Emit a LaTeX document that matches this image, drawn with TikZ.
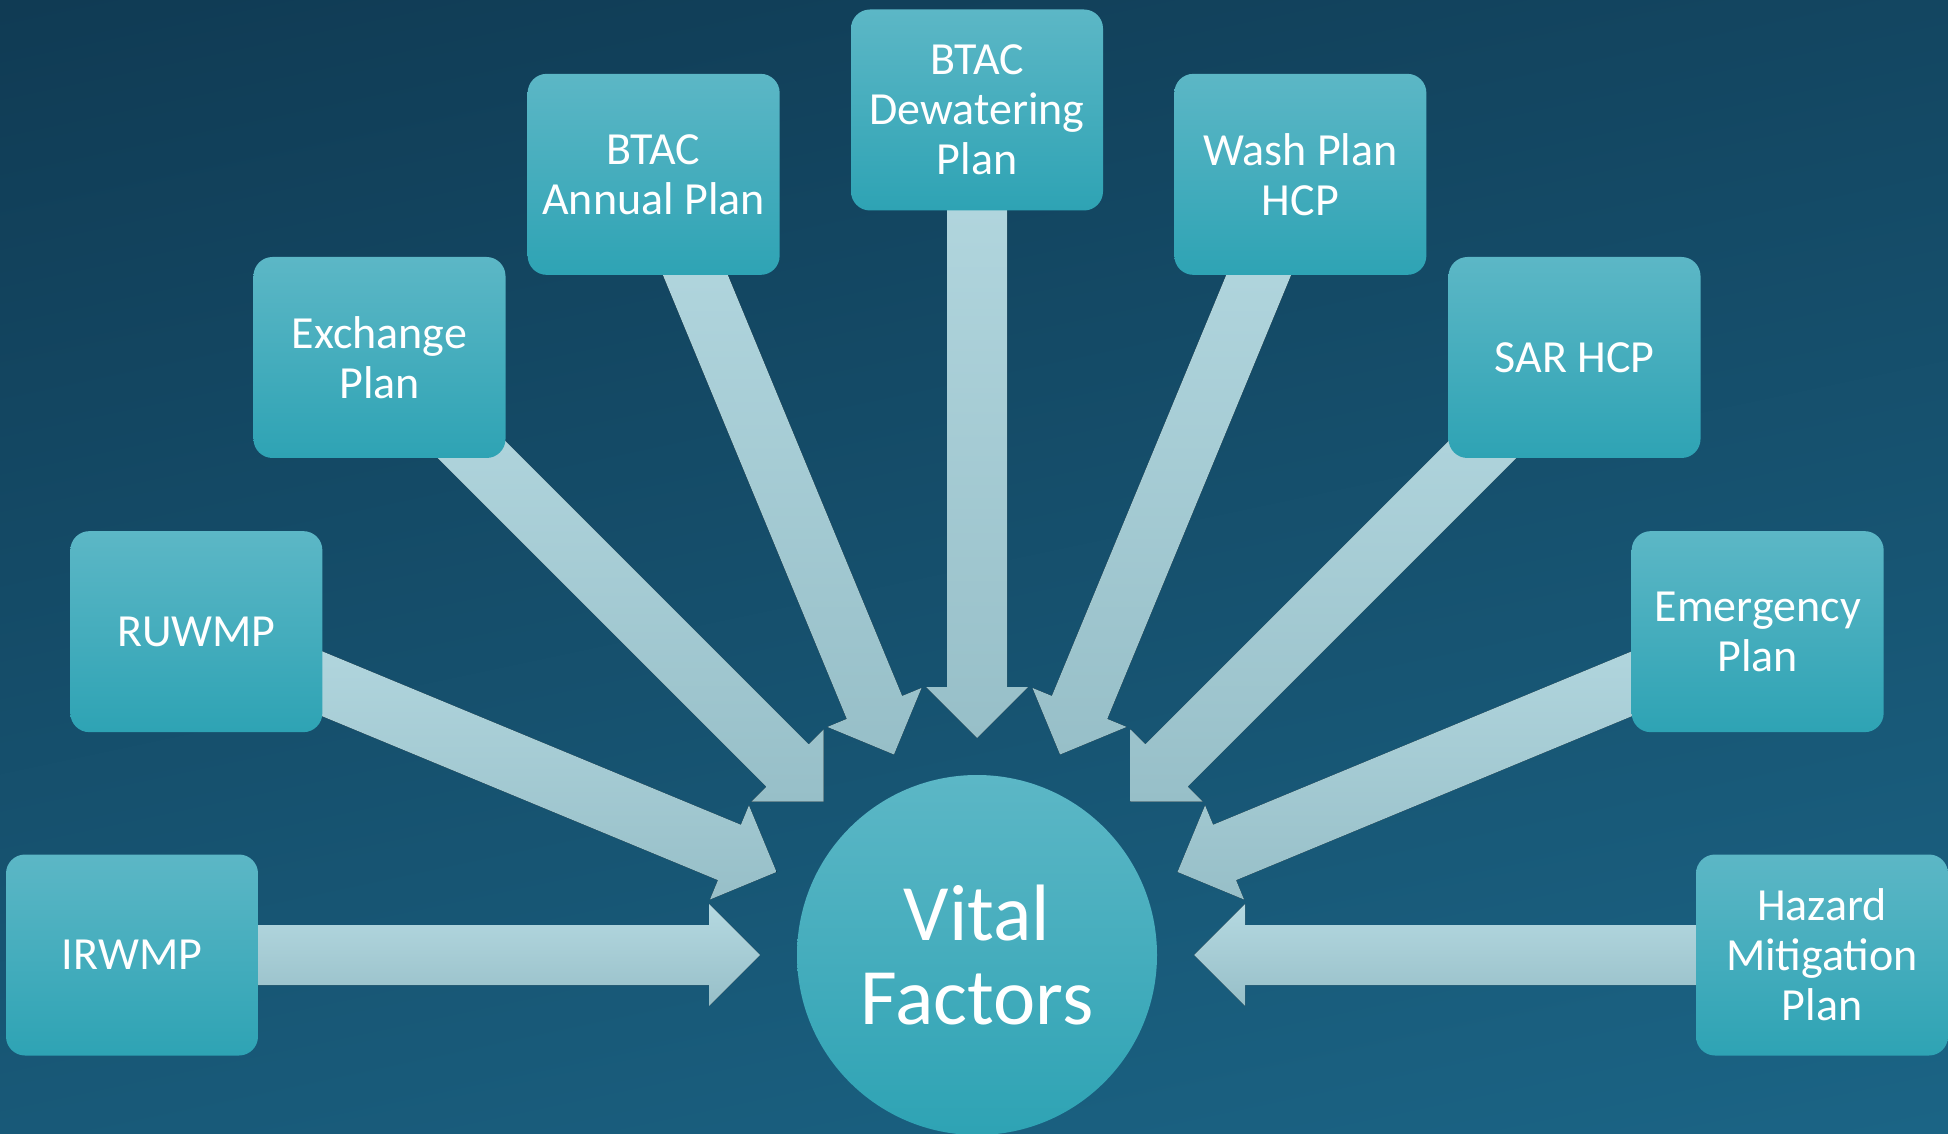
\documentclass[tikz,border=0pt]{standalone}
\usepackage{fontspec}
\setmainfont{Carlito}
\usetikzlibrary{calc}
\pgfdeclarelayer{bg}
\pgfdeclarelayer{back}
\pgfsetlayers{bg,back,main}
\definecolor{bgTop}{HTML}{103B54}
\definecolor{bgBot}{HTML}{1B6485}
\definecolor{boxTop}{HTML}{5CB7C6}
\definecolor{boxMid}{HTML}{3DB2C4}
\definecolor{boxBot}{HTML}{2EA3B4}
\definecolor{arrTop}{HTML}{B5D9E1}
\definecolor{arrBot}{HTML}{97BFC8}
\tikzset{
  plan/.style={rectangle,rounded corners=9.5pt,minimum width=126pt,minimum height=100.5pt,
    inner sep=0pt,align=center,text=white,top color=boxTop,middle color=boxMid,bottom color=boxBot,
    font=\fontsize{23}{25}\selectfont},
  hub/.style={circle,minimum size=180pt,inner sep=0pt,align=center,text=white,
    top color=boxTop,middle color=boxMid,bottom color=boxBot,font=\fontsize{40}{42}\selectfont},
  planarrow/.style={top color=arrTop,bottom color=arrBot}
}
\begin{document}
\begin{tikzpicture}[x=0.5pt,y=0.5pt]
	\useasboundingbox (0,0) rectangle (1948,-1134);
	\begin{pgfonlayer}{bg}
		\fill[top color=bgTop,bottom color=bgBot,shading angle=12] (-200,100) rectangle (2148,-1234);
	\end{pgfonlayer}
	\node[hub] (vf) at (977,-955) {Vital\\Factors};
	\node[plan] (irwmp) at ($(vf.center)+(180:845)$) {IRWMP};
	\node[plan] (ruwmp) at ($(vf.center)+(157.5:845)$) {RUWMP};
	\node[plan] (exchange) at ($(vf.center)+(135:845)$) {Exchange\\Plan};
	\node[plan] (annual) at ($(vf.center)+(112.5:845)$) {BTAC\\Annual Plan};
	\node[plan] (dewater) at ($(vf.center)+(90:845)$) {BTAC\\Dewatering\\Plan};
	\node[plan] (wash) at ($(vf.center)+(67.5:845)$) {Wash Plan\\HCP};
	\node[plan] (sar) at ($(vf.center)+(45:845)$) {SAR HCP};
	\node[plan] (emergency) at ($(vf.center)+(22.5:845)$) {Emergency\\Plan};
	\node[plan] (hazard) at ($(vf.center)+(0:845)$) {Hazard\\Mitigation\\Plan};
	% block arrows, behind the boxes
	\begin{pgfonlayer}{back}
		\foreach \p in {irwmp,ruwmp,exchange,annual,dewater,wash,sar,emergency,hazard}{
			\coordinate (tip) at ($(vf.center)!108.5pt!(\p.center)$);
			\coordinate (neck) at ($(tip)!25.5pt!(\p.center)$);
			\fill[planarrow] ($(\p.center)!15pt!90:(tip)$) -- ($(neck)!15pt!-90:(\p.center)$)
				-- ($(neck)!25.5pt!-90:(\p.center)$) -- (tip) -- ($(neck)!25.5pt!90:(\p.center)$)
				-- ($(neck)!15pt!90:(\p.center)$) -- ($(\p.center)!15pt!-90:(tip)$) -- cycle;
		}
	\end{pgfonlayer}
\end{tikzpicture}
\end{document}
